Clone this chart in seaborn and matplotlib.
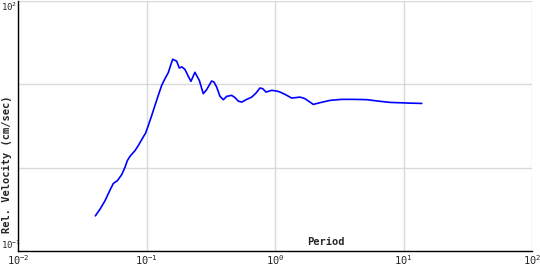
import matplotlib
matplotlib.use("Agg")
import matplotlib.pyplot as plt
import seaborn as sns
import pandas as pd

period = [0.0400, 0.0435, 0.0475, 0.0520, 0.0552, 0.0593, 0.0641, 0.0680, 0.0709,
          0.0744, 0.0814, 0.0863, 0.0918, 0.0986, 0.1033, 0.1098, 0.1164, 0.1235,
          0.1313, 0.1393, 0.1478, 0.1541, 0.1600, 0.1718, 0.1799, 0.1888, 0.1995,
          0.2113, 0.2218, 0.2381, 0.2575, 0.2766, 0.2937, 0.3213, 0.3350, 0.3514,
          0.3733, 0.3963, 0.4207, 0.4603, 0.4887, 0.5180, 0.5508, 0.6026, 0.6594,
          0.7112, 0.7637, 0.8017, 0.8511, 0.9419, 1.031, 1.094, 1.196, 1.349,
          1.566, 1.711, 1.986, 2.239, 2.679, 3.304, 4.064, 5.171, 6.366, 7.853,
          11.24, 13.87]
velocity = [0.264, 0.318, 0.400, 0.538, 0.647, 0.697, 0.824, 1.009, 1.214,
            1.368, 1.603, 1.841, 2.175, 2.618, 3.206, 4.232, 5.585, 7.372,
            9.727, 11.71, 13.83, 16.94, 20.01, 18.93, 15.72, 16.16, 15.04,
            12.49, 10.87, 13.95, 11.17, 7.73, 8.63, 10.96, 10.66, 9.28,
            7.17, 6.54, 7.17, 7.37, 6.92, 6.29, 6.12, 6.60, 7.03,
            7.85, 9.03, 8.88, 8.08, 8.47, 8.31, 8.08, 7.58, 6.84,
            7.03, 6.73, 5.74, 6.02, 6.42, 6.60, 6.60, 6.55, 6.29, 6.07,
            5.95, 5.90]

x_ticks = [0.01, 0.1, 1, 10, 100]
x_labels = [r"$10^{-2}$", r"$10^{-1}$", r"$10^{0}$", r"$10^{1}$", r"$10^{2}$"]
y_ticks = [0.1, 100]
y_labels = [r"$10^{-1}$", r"$10^{2}$"]
y_grid = [1, 10]

df = pd.DataFrame({"Period": period, "Velocity": velocity})

sns.set_style("white")
plt.rcParams["font.family"] = ["DejaVu Sans Mono", "DejaVu Sans"]
plt.rcParams["mathtext.fontset"] = "custom"
plt.rcParams["mathtext.rm"] = "DejaVu Sans Mono"
plt.rcParams["mathtext.it"] = "DejaVu Sans Mono"

fig = plt.figure(figsize=(5.4, 2.7), dpi=100)
ax = fig.add_axes([18/540, 1 - 251/270, 514/540, 250/270])

sns.lineplot(data=df, x="Period", y="Velocity", sort=False, estimator=None,
             color="#0000ff", linewidth=1.2, ax=ax)

ax.set_xscale("log")
ax.set_yscale("log")
ax.set_xlim(0.01, 100)
ax.set_ylim(0.1, 100)

ax.set_xticks(x_ticks)
ax.set_xticklabels(x_labels, fontsize=7.5)
ax.xaxis.set_minor_locator(matplotlib.ticker.NullLocator())
ax.set_yticks(y_ticks)
ax.set_yticklabels(y_labels, fontsize=6.5)
ax.set_yticks(y_grid, minor=True)
ax.yaxis.set_minor_formatter(matplotlib.ticker.NullFormatter())
ax.tick_params(axis="both", which="both", length=0)
ax.tick_params(axis="y", pad=12.5)
ax.tick_params(axis="x", pad=1.5)
for lab, va in zip(ax.get_yticklabels(), ["bottom", "top"]):
    lab.set_va(va)
    lab.set_ha("left")

ax.grid(True, which="both", color="#d9d9d9", linewidth=1.0)
ax.set_axisbelow(True)
for s in ["top", "right"]:
    ax.spines[s].set_visible(False)
for s in ["left", "bottom"]:
    ax.spines[s].set_color("black")
    ax.spines[s].set_linewidth(1.0)

ax.set_xlabel("")
ax.set_ylabel("")
ax.text(0.599, 0.036, "Period", transform=ax.transAxes, ha="center", va="center",
        fontsize=7.5, fontweight="bold")
fig.text(7/540, 1 - 233/270, "Rel. Velocity (cm/sec)", rotation=90,
         ha="center", va="bottom", fontsize=7.5, fontweight="bold")

fig.savefig("out.png", dpi=100)
